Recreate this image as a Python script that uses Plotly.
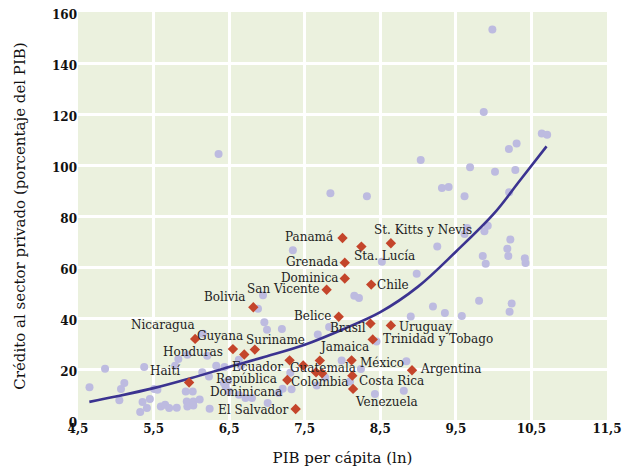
import plotly.graph_objects as go

# ---------------- data ----------------
# Other countries (light purple dots): ln GDP per capita, private credit (% GDP)
other_x = [4.652, 4.858, 5.047, 5.069, 5.113, 5.354, 5.323, 5.412, 5.376, 5.451,
           5.508, 5.551, 5.596, 5.653, 5.706, 5.807, 5.785, 5.828, 5.947, 5.926,
           6.018, 5.939, 6.026, 5.947, 6.026, 6.110, 6.242, 6.329, 6.439, 6.233,
           6.453, 6.153, 6.210, 6.628, 6.654, 6.144, 6.430, 6.487, 6.496, 6.628,
           6.716, 6.803, 7.010, 7.155, 6.360, 6.948, 6.882, 6.966, 7.001, 7.198,
           7.343, 7.208, 7.326, 7.309, 7.673, 7.823, 7.989, 8.244, 8.845, 7.770,
           7.659, 8.100, 8.429, 8.811, 8.450, 8.156, 8.218, 8.521, 8.982, 9.254,
           9.197, 8.903, 9.355, 9.579, 9.807, 10.238, 10.211, 9.615, 9.649, 9.878,
           9.922, 10.221, 10.181, 10.194, 9.856, 9.895, 10.413, 10.422, 9.316, 9.404,
           9.615, 10.205, 9.688, 10.018, 10.202, 10.304, 10.287, 10.637, 10.708, 9.035,
           7.840, 8.323, 9.869, 9.983]
other_y = [12.8, 20.1, 7.7, 12.2, 14.5, 7.1, 3.1, 4.7, 20.8, 8.2,
           12.2, 11.9, 5.3, 6.0, 4.7, 4.8, 21.3, 23.9, 25.6, 11.2,
           11.2, 7.3, 7.3, 5.3, 5.7, 8.0, 4.4, 21.3, 20.8, 17.1,
           13.2, 33.8, 25.2, 23.6, 21.3, 18.7, 14.5, 15.5, 11.2, 9.9,
           8.6, 8.6, 6.7, 10.6, 104.3, 48.9, 43.6, 38.3, 35.4, 35.7,
           66.6, 12.3, 12.1, 18.5, 33.5, 36.5, 23.3, 20.0, 23.0, 16.7,
           13.5, 15.1, 10.2, 11.5, 30.8, 48.7, 47.8, 62.1, 57.4, 68.0,
           44.5, 40.6, 42.0, 40.8, 46.8, 45.7, 42.5, 72.9, 75.3, 74.0,
           76.2, 70.8, 67.2, 64.3, 64.3, 61.3, 63.4, 61.6, 91.0, 91.4,
           87.7, 89.3, 99.1, 97.4, 106.3, 108.4, 98.0, 112.4, 111.9, 102.0,
           88.9, 87.7, 120.8, 153.1]

# Latin America and the Caribbean (red diamonds)
lac_names = ["Nicaragua", "Bolivia", "Honduras", "Guyana", "Suriname", "Haití",
             "Ecuador", "República\nDominicana", "El Salvador", "Guatemala", "Jamaica",
             "Colombia", "", "México", "Costa Rica", "Venezuela", "Argentina",
             "Trinidad y Tobago", "Brasil", "Uruguay", "Belice", "San Vicente",
             "Dominica", "Chile", "Grenada", "Panamá", "Sta. Lucía", "St. Kitts y Nevis"]
lac_x = [6.05, 6.82, 6.55, 6.70, 6.84, 5.97,
         7.30, 7.27, 7.38, 7.48, 7.70,
         7.65, 7.73, 8.12, 8.13, 8.14, 8.92,
         8.40, 8.37, 8.64, 7.95, 7.79,
         8.03, 8.38, 8.03, 8.00, 8.25, 8.64]
lac_y = [31.8, 44.2, 27.8, 25.7, 27.6, 14.7,
         23.4, 15.7, 4.3, 21.4, 23.3,
         18.7, 18.3, 23.4, 17.4, 12.2, 19.5,
         31.6, 37.8, 37.1, 40.5, 51.1,
         55.5, 53.1, 61.7, 71.4, 68.0, 69.3]

# Fitted curve
trend_x = [4.65, 5.0, 5.5, 6.0, 6.5, 7.0, 7.5, 8.0, 8.5, 9.0, 9.5, 10.0, 10.35, 10.7]
trend_y = [7.1, 9.2, 12.5, 16.5, 20.8, 25.0, 29.5, 35.5, 42.3, 52.3, 66.0, 80.8, 94.0, 107.3]

x_tick_vals = [4.5, 5.5, 6.5, 7.5, 8.5, 9.5, 10.5, 11.5]
x_tick_text = ["4,5", "5,5", "6,5", "7,5", "8,5", "9,5", "10,5", "11,5"]
y_tick_vals = [0, 20, 40, 60, 80, 100, 120, 140, 160]

# ---------------- label placement (style) ----------------
# name -> (xanchor, xshift px, yshift px)
label_pos = {
    "Nicaragua": ("right", 2, 14.3),
    "Bolivia": ("right", -5, 10),
    "Honduras": ("right", -8, -2.4),
    "Guyana": ("right", 1, 18.7),
    "Suriname": ("left", -11, 9.3),
    "Haití": ("right", -7, 12),
    "Ecuador": ("right", -4.6, -7),
    "República\nDominicana": ("center", -41, 1.3),
    "El Salvador": ("right", -5.6, -0.7),
    "Guatemala": ("left", -15, -2.6),
    "Jamaica": ("left", -2.7, 13.3),
    "Colombia": ("center", 3.6, -10),
    "México": ("left", 6, -3),
    "Costa Rica": ("left", 4.7, -5.7),
    "Venezuela": ("left", 0, -13),
    "Argentina": ("left", 6.3, 1),
    "Trinidad y Tobago": ("left", 8.6, 0),
    "Brasil": ("right", -2.7, -4.7),
    "Uruguay": ("left", 6, -1.3),
    "Belice": ("right", -5.3, 0.3),
    "San Vicente": ("right", -4.7, 0.7),
    "Dominica": ("right", -4, 0.7),
    "Chile": ("left", 4, -0.3),
    "Grenada": ("right", -5, 0.3),
    "Panamá": ("right", -8, 0.6),
    "Sta. Lucía": ("left", -9.7, -9.7),
    "St. Kitts y Nevis": ("left", -18.7, 13.7),
}

SERIF = "DejaVu Serif"
fig = go.Figure()

fig.add_trace(go.Scatter(
    x=other_x, y=other_y, mode="markers",
    marker=dict(color="#BDBBE0", size=8, line=dict(width=0)),
    hoverinfo="skip"))

fig.add_trace(go.Scatter(
    x=trend_x, y=trend_y, mode="lines",
    line=dict(color="#3B3390", width=2.6, shape="spline", smoothing=1.0),
    hoverinfo="skip"))

fig.add_trace(go.Scatter(
    x=lac_x, y=lac_y, mode="markers",
    marker=dict(color="#C4452B", size=8, symbol="diamond", line=dict(width=0)),
    hoverinfo="skip"))

annotations = []
for name, x, y in zip(lac_names, lac_x, lac_y):
    if not name:
        continue
    anchor, dx, dy = label_pos[name]
    lines = name.split("\n")
    for i, line in enumerate(lines):
        annotations.append(dict(
            x=x, y=y, xref="x", yref="y", text=line, showarrow=False,
            xanchor=anchor, yanchor="middle",
            xshift=dx, yshift=dy - i * 13.7,
            font=dict(family=SERIF, size=12, color="#222222")))

fig.update_layout(
    width=622, height=467,
    margin=dict(l=78, r=15, t=12, b=47),
    paper_bgcolor="white",
    plot_bgcolor="#EBF1DE",
    showlegend=False,
    annotations=annotations,
    xaxis=dict(
        range=[4.5, 11.5], tickvals=x_tick_vals, ticktext=x_tick_text,
        showgrid=True, gridcolor="white", gridwidth=3, zeroline=False,
        showline=False, ticks="", automargin=False, ticklabeloverflow="allow",
        tickfont=dict(family=SERIF, size=12, color="#111111", weight="bold"),
        title=dict(text="PIB per cápita (ln)", standoff=22,
                   font=dict(family=SERIF, size=15, color="#111111")),
    ),
    yaxis=dict(
        range=[0, 160], tickvals=y_tick_vals,
        showgrid=True, gridcolor="white", gridwidth=3, zeroline=False,
        showline=False, ticks="", automargin=False, ticklabeloverflow="allow",
        ticklabelshift=3,
        tickfont=dict(family=SERIF, size=12, color="#111111", weight="bold"),
        title=dict(text="Crédito al sector privado (porcentaje del PIB)", standoff=22,
                   font=dict(family=SERIF, size=15, color="#111111")),
    ),
)

# Remove the default 8px page margin so the 622x467 figure fills the window exactly.
fig.write_html("out.html",
               config={"displayModeBar": False},
               post_script="document.body.style.margin='0';document.body.style.overflow='hidden';")
